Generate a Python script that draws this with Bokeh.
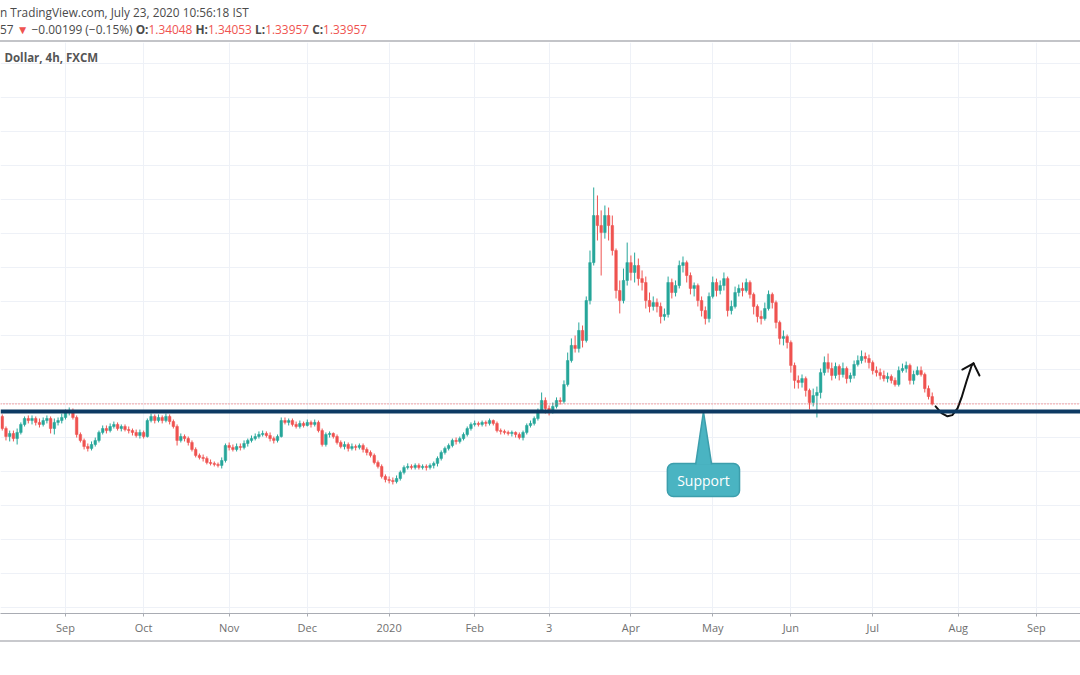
from bokeh.plotting import figure
from bokeh.models import Range1d, LinearAxis, FixedTicker, Grid, Span, Label, Div, ColumnDataSource
from bokeh.layouts import column
from bokeh.core.properties import value
from bokeh.embed import file_html
from bokeh.resources import INLINE

# ---- USD/CAD daily candles (bar index = trading day from 8 Aug 2019) ----
open_ = [
 1.3322,1.3251,1.3204,1.3222,1.3192,1.3228,1.3275,1.3310,1.3298,1.3310,
 1.3287,1.3275,1.3298,1.3310,1.3251,1.3287,1.3298,1.3316,1.3345,1.3357,
 1.3316,1.3216,1.3181,1.3145,1.3134,1.3157,1.3181,1.3228,1.3251,1.3239,
 1.3263,1.3275,1.3251,1.3263,1.3245,1.3239,1.3228,1.3210,1.3228,1.3204,
 1.3298,1.3322,1.3298,1.3316,1.3298,1.3322,1.3292,1.3263,1.3181,1.3204,
 1.3192,1.3169,1.3128,1.3093,1.3081,1.3075,1.3051,1.3046,1.3040,1.3034,
 1.3063,1.3151,1.3140,1.3128,1.3145,1.3140,1.3163,1.3181,1.3192,1.3204,
 1.3216,1.3222,1.3210,1.3192,1.3181,1.3204,1.3298,1.3287,1.3298,1.3275,
 1.3263,1.3281,1.3269,1.3287,1.3275,1.3287,1.3239,1.3157,1.3216,1.3222,
 1.3204,1.3169,1.3145,1.3157,1.3134,1.3145,1.3140,1.3151,1.3128,1.3110,
 1.3093,1.3051,1.3028,1.2969,1.2951,1.2945,1.2939,1.2957,1.2993,1.3022,
 1.3028,1.3022,1.3034,1.3022,1.3028,1.3022,1.3034,1.3046,1.3075,1.3110,
 1.3134,1.3151,1.3181,1.3175,1.3192,1.3216,1.3251,1.3275,1.3281,1.3275,
 1.3287,1.3281,1.3298,1.3281,1.3239,1.3234,1.3228,1.3222,1.3228,1.3216,
 1.3198,1.3228,1.3269,1.3281,1.3310,1.3357,1.3416,1.3369,1.3357,1.3381,
 1.3416,1.3410,1.3510,1.3651,1.3740,1.3722,1.3828,1.3769,1.4004,1.4227,
 1.4504,1.4445,1.4404,1.4504,1.4445,1.4298,1.4063,1.4004,1.4122,1.4227,
 1.4169,1.4210,1.4133,1.4110,1.4004,1.3969,1.3992,1.3969,1.3910,1.3922,
 1.4110,1.4051,1.4092,1.4210,1.4227,1.4151,1.4075,1.4092,1.4004,1.3945,
 1.3898,1.4028,1.4110,1.4063,1.4092,1.4133,1.3945,1.3969,1.4051,1.4075,
 1.4063,1.4110,1.4040,1.3969,1.3910,1.3898,1.3957,1.4040,1.3992,1.3875,
 1.3781,1.3792,1.3757,1.3622,1.3534,1.3522,1.3545,1.3475,1.3404,1.3445,
 1.3463,1.3580,1.3639,1.3604,1.3563,1.3616,1.3569,1.3604,1.3545,1.3563,
 1.3628,1.3651,1.3675,1.3663,1.3639,1.3592,1.3580,1.3563,1.3545,1.3557,
 1.3534,1.3510,1.3592,1.3604,1.3622,1.3534,1.3569,1.3592,1.3569,1.3486,
 1.3439]
high = [
 1.3334,1.3263,1.3239,1.3239,1.3251,1.3287,1.3322,1.3328,1.3328,1.3322,
 1.3310,1.3316,1.3328,1.3322,1.3310,1.3316,1.3339,1.3363,1.3375,1.3369,
 1.3328,1.3228,1.3192,1.3163,1.3175,1.3198,1.3239,1.3269,1.3269,1.3281,
 1.3292,1.3287,1.3275,1.3275,1.3263,1.3251,1.3245,1.3245,1.3239,1.3310,
 1.3339,1.3334,1.3334,1.3328,1.3339,1.3334,1.3304,1.3275,1.3222,1.3216,
 1.3204,1.3181,1.3140,1.3104,1.3098,1.3087,1.3069,1.3057,1.3051,1.3081,
 1.3163,1.3169,1.3157,1.3163,1.3163,1.3181,1.3192,1.3210,1.3222,1.3234,
 1.3239,1.3234,1.3228,1.3204,1.3216,1.3316,1.3316,1.3310,1.3310,1.3292,
 1.3298,1.3292,1.3304,1.3298,1.3304,1.3298,1.3251,1.3228,1.3234,1.3228,
 1.3216,1.3181,1.3175,1.3169,1.3163,1.3157,1.3163,1.3163,1.3140,1.3122,
 1.3104,1.3063,1.3040,1.2981,1.2969,1.2963,1.2975,1.3004,1.3034,1.3046,
 1.3040,1.3046,1.3046,1.3040,1.3040,1.3046,1.3057,1.3087,1.3122,1.3145,
 1.3163,1.3192,1.3198,1.3204,1.3228,1.3263,1.3287,1.3298,1.3292,1.3298,
 1.3298,1.3310,1.3304,1.3292,1.3251,1.3245,1.3239,1.3239,1.3234,1.3228,
 1.3239,1.3281,1.3298,1.3322,1.3369,1.3463,1.3434,1.3387,1.3404,1.3434,
 1.3434,1.3534,1.3698,1.3781,1.3798,1.3875,1.3857,1.4028,1.4298,1.4669,
 1.4622,1.4534,1.4563,1.4551,1.4504,1.4310,1.4122,1.4192,1.4345,1.4269,
 1.4286,1.4251,1.4181,1.4145,1.4051,1.4028,1.4016,1.3992,1.3957,1.4145,
 1.4133,1.4122,1.4239,1.4263,1.4239,1.4169,1.4110,1.4104,1.4028,1.3969,
 1.4051,1.4145,1.4133,1.4122,1.4169,1.4145,1.4004,1.4086,1.4098,1.4110,
 1.4133,1.4122,1.4051,1.3981,1.3945,1.3992,1.4063,1.4051,1.4004,1.3886,
 1.3828,1.3804,1.3769,1.3639,1.3563,1.3569,1.3557,1.3486,1.3486,1.3498,
 1.3604,1.3675,1.3692,1.3639,1.3639,1.3628,1.3639,1.3616,1.3580,1.3651,
 1.3681,1.3710,1.3698,1.3686,1.3651,1.3616,1.3604,1.3592,1.3580,1.3569,
 1.3551,1.3616,1.3633,1.3645,1.3633,1.3592,1.3616,1.3616,1.3580,1.3504,
 1.3463]
low = [
 1.3239,1.3181,1.3175,1.3175,1.3157,1.3216,1.3263,1.3281,1.3275,1.3269,
 1.3257,1.3263,1.3281,1.3222,1.3216,1.3269,1.3281,1.3304,1.3328,1.3304,
 1.3198,1.3169,1.3128,1.3116,1.3122,1.3145,1.3169,1.3216,1.3222,1.3228,
 1.3251,1.3239,1.3234,1.3234,1.3222,1.3210,1.3198,1.3192,1.3192,1.3198,
 1.3287,1.3281,1.3287,1.3281,1.3287,1.3275,1.3251,1.3151,1.3169,1.3175,
 1.3151,1.3116,1.3081,1.3069,1.3057,1.3040,1.3034,1.3028,1.3022,1.3016,
 1.3051,1.3122,1.3116,1.3116,1.3122,1.3128,1.3145,1.3169,1.3181,1.3192,
 1.3204,1.3198,1.3175,1.3163,1.3169,1.3198,1.3275,1.3269,1.3263,1.3251,
 1.3251,1.3257,1.3263,1.3257,1.3263,1.3228,1.3145,1.3145,1.3198,1.3192,
 1.3157,1.3134,1.3128,1.3116,1.3122,1.3122,1.3128,1.3110,1.3093,1.3081,
 1.3040,1.3016,1.2957,1.2934,1.2928,1.2922,1.2928,1.2945,1.2981,1.3010,
 1.3010,1.3010,1.3010,1.3010,1.3004,1.3010,1.3016,1.3028,1.3063,1.3098,
 1.3122,1.3140,1.3157,1.3163,1.3181,1.3204,1.3239,1.3263,1.3263,1.3263,
 1.3263,1.3269,1.3269,1.3228,1.3216,1.3216,1.3210,1.3204,1.3198,1.3187,
 1.3181,1.3216,1.3257,1.3269,1.3298,1.3345,1.3339,1.3328,1.3339,1.3369,
 1.3392,1.3398,1.3498,1.3639,1.3698,1.3698,1.3728,1.3757,1.3981,1.4210,
 1.4357,1.4151,1.4368,1.4357,1.4269,1.4016,1.3928,1.3987,1.4092,1.4122,
 1.4110,1.4092,1.4063,1.3957,1.3934,1.3945,1.3934,1.3869,1.3886,1.3904,
 1.4016,1.4028,1.4075,1.4169,1.4110,1.4040,1.4028,1.3969,1.3910,1.3863,
 1.3875,1.4016,1.4028,1.4040,1.4063,1.3910,1.3922,1.3957,1.4028,1.4028,
 1.4051,1.4016,1.3922,1.3875,1.3863,1.3886,1.3945,1.3957,1.3840,1.3745,
 1.3740,1.3722,1.3580,1.3486,1.3486,1.3492,1.3439,1.3363,1.3381,1.3316,
 1.3428,1.3563,1.3580,1.3534,1.3545,1.3534,1.3551,1.3516,1.3522,1.3545,
 1.3616,1.3633,1.3639,1.3604,1.3569,1.3557,1.3539,1.3528,1.3522,1.3516,
 1.3498,1.3498,1.3580,1.3580,1.3510,1.3510,1.3563,1.3557,1.3463,1.3422,
 1.3387]
close = [
 1.3251,1.3204,1.3222,1.3192,1.3228,1.3275,1.3310,1.3298,1.3310,1.3287,
 1.3275,1.3298,1.3310,1.3251,1.3287,1.3298,1.3316,1.3345,1.3357,1.3316,
 1.3216,1.3181,1.3145,1.3134,1.3157,1.3181,1.3228,1.3251,1.3239,1.3263,
 1.3275,1.3251,1.3263,1.3245,1.3239,1.3228,1.3210,1.3228,1.3204,1.3298,
 1.3322,1.3298,1.3316,1.3298,1.3322,1.3292,1.3263,1.3181,1.3204,1.3192,
 1.3169,1.3128,1.3093,1.3081,1.3075,1.3051,1.3046,1.3040,1.3034,1.3063,
 1.3151,1.3140,1.3128,1.3145,1.3140,1.3163,1.3181,1.3192,1.3204,1.3216,
 1.3222,1.3210,1.3192,1.3181,1.3204,1.3298,1.3287,1.3298,1.3275,1.3263,
 1.3281,1.3269,1.3287,1.3275,1.3287,1.3239,1.3157,1.3216,1.3222,1.3204,
 1.3169,1.3145,1.3157,1.3134,1.3145,1.3140,1.3151,1.3128,1.3110,1.3093,
 1.3051,1.3028,1.2969,1.2951,1.2945,1.2939,1.2957,1.2993,1.3022,1.3028,
 1.3022,1.3034,1.3022,1.3028,1.3022,1.3034,1.3046,1.3075,1.3110,1.3134,
 1.3151,1.3181,1.3175,1.3192,1.3216,1.3251,1.3275,1.3281,1.3275,1.3287,
 1.3281,1.3298,1.3281,1.3239,1.3234,1.3228,1.3222,1.3228,1.3216,1.3198,
 1.3228,1.3269,1.3281,1.3310,1.3357,1.3416,1.3369,1.3357,1.3381,1.3416,
 1.3410,1.3510,1.3651,1.3740,1.3722,1.3828,1.3769,1.4004,1.4227,1.4504,
 1.4445,1.4404,1.4504,1.4445,1.4298,1.4063,1.4004,1.4122,1.4227,1.4169,
 1.4210,1.4133,1.4110,1.4004,1.3969,1.3992,1.3969,1.3910,1.3922,1.4110,
 1.4051,1.4092,1.4210,1.4227,1.4151,1.4075,1.4092,1.4004,1.3945,1.3898,
 1.4028,1.4110,1.4063,1.4092,1.4133,1.3945,1.3969,1.4051,1.4075,1.4063,
 1.4110,1.4040,1.3969,1.3910,1.3898,1.3957,1.4040,1.3992,1.3875,1.3781,
 1.3792,1.3757,1.3622,1.3534,1.3522,1.3545,1.3475,1.3404,1.3445,1.3463,
 1.3580,1.3639,1.3604,1.3563,1.3616,1.3569,1.3604,1.3545,1.3563,1.3628,
 1.3651,1.3675,1.3663,1.3639,1.3592,1.3580,1.3563,1.3545,1.3557,1.3534,
 1.3510,1.3592,1.3604,1.3622,1.3534,1.3569,1.3592,1.3569,1.3486,1.3439,
 1.33957]

month_ticks = [17, 38, 61, 82, 104, 127, 147, 169, 191, 212, 234, 257, 278]
month_labels = ["Sep", "Oct", "Nov", "Dec", "2020", "Feb", "3", "Apr", "May", "Jun", "Jul", "Aug", "Sep"]
price_grid = [1.22, 1.24, 1.26, 1.28, 1.30, 1.32, 1.34, 1.36, 1.38, 1.40,
              1.42, 1.44, 1.46, 1.48, 1.50, 1.52, 1.54]
support_level = 1.3351
last_close = 1.33957

# annotation shapes (hand-drawn on the original): callout and projected path arrow
callout_box = dict(left=178.8, right=198.2, top=1.3045, bottom=1.2851)
callout_tip_x = [186.4, 190.7, 188.5]
callout_tip_y = [1.3040, 1.3040, 1.3351]
curve_x = [250.9, 252.5, 254.1, 255.4, 256.8, 257.9, 259.2, 260.6, 261.1]
curve_y = [1.3381, 1.3342, 1.3323, 1.3330, 1.3369, 1.3434, 1.3528, 1.3622, 1.3634]
head_x = [[258.1, 261.1], [262.7, 261.1]]
head_y = [[1.3598, 1.3634], [1.3563, 1.3634]]

UP, DOWN = "#26a69a", "#ef5350"
FONT = "Open Sans"

idx = list(range(len(close)))
colors = [UP if c >= o else DOWN for o, c in zip(open_, close)]
src = ColumnDataSource(dict(
    x=idx, high=high, low=low,
    top=[max(o, c) for o, c in zip(open_, close)],
    bottom=[min(o, c) for o, c in zip(open_, close)],
    color=colors))

W = 1080
FH = 571
p = figure(frame_width=W, frame_height=FH,
           x_range=Range1d(-0.473, 289.86), y_range=Range1d(1.216294, 1.552176),
           x_axis_type=None, y_axis_type=None,
           output_backend="svg", toolbar_location=None,
           min_border_left=0, min_border_right=0, min_border_top=0, min_border_bottom=27,
           outline_line_color=None, background_fill_color="white", border_fill_color="white")

p.add_layout(Grid(dimension=1, ticker=FixedTicker(ticks=price_grid), grid_line_color="#eef1f7"))
p.add_layout(Grid(dimension=0, ticker=FixedTicker(ticks=month_ticks), grid_line_color="#eef1f7"))

xa = LinearAxis(ticker=FixedTicker(ticks=month_ticks),
                major_label_overrides={t: lab for t, lab in zip(month_ticks, month_labels)})
xa.axis_line_color = "#a9acb3"
xa.major_tick_line_color = "#a9acb3"
xa.major_tick_out = 3
xa.major_tick_in = 0
xa.minor_tick_out = 0
xa.minor_tick_in = 0
xa.major_label_standoff = 3
xa.major_label_text_color = "#6f6f6f"
xa.major_label_text_font = FONT
xa.major_label_text_font_size = "11px"
p.add_layout(xa, "below")

# candles
p.segment(x0="x", x1="x", y0="low", y1="high", color="color", line_width=1, source=src)
p.vbar(x="x", width=0.7, top="top", bottom="bottom", fill_color="color", line_color="color",
       line_width=0.5, source=src)

# lines
p.add_layout(Span(location=last_close, dimension="width", line_color=DOWN, line_width=1, line_dash="1 2"))
p.add_layout(Span(location=support_level, dimension="width", line_color="#0d3a63", line_width=4))

# Support callout
p.quad(left=[callout_box["left"]], right=[callout_box["right"]], top=[callout_box["top"]],
       bottom=[callout_box["bottom"]], fill_color="#4ab4c2", line_color="#3c9eac", line_width=1.5,
       border_radius=6)
p.patch(callout_tip_x, callout_tip_y, fill_color="#4ab4c2", line_color=None)
p.multi_line([[callout_tip_x[0], callout_tip_x[2]], [callout_tip_x[1], callout_tip_x[2]]],
             [[callout_tip_y[0], callout_tip_y[2]], [callout_tip_y[1], callout_tip_y[2]]],
             line_color="#3c9eac", line_width=1.5)
p.text(x=[188.5], y=[(callout_box["top"] + callout_box["bottom"]) / 2], text=["Support"],
       text_align="center", text_baseline="middle", text_color="white",
       text_font=value(FONT), text_font_size="14px")

# projected path arrow
p.line(curve_x, curve_y, line_color="#111111", line_width=2, line_join="round", line_cap="round")
p.multi_line(head_x, head_y, line_color="#111111", line_width=2, line_cap="round")

p.add_layout(Label(x=0.6, y=1.5433, text="Dollar, 4h, FXCM", text_align="left", text_baseline="middle",
                   text_font=FONT, text_font_size="11.5px", text_font_style="bold", text_color="#555555"))

header_html = (
    '<div style="font-family:\'Open Sans\';color:#4a4a4a;line-height:17px;'
    'white-space:nowrap;margin-top:4px">'
    '<span style="font-size:11.8px">n TradingView.com, July 23, 2020 10:56:18 IST</span><br>'
    '<span style="font-size:11.9px">57 <span style="color:#ef5350">&#9660;</span> &minus;0.00199 (&minus;0.15%) '
    '<b>O:</b><span style="color:#ef5350">1.34048</span> '
    '<b>H:</b><span style="color:#ef5350">1.34053</span> '
    '<b>L:</b><span style="color:#ef5350">1.33957</span> '
    '<b>C:</b><span style="color:#ef5350">1.33957</span></span></div>'
)
header = Div(text=header_html, width=W, height=40, margin=(0, 0, 0, 0))
sep = Div(text="", width=W, height=2, margin=(0, 0, 0, 0), styles={"background-color": "#c3c4c8"})
foot = Div(text="", width=W, height=2, margin=(0, 0, 0, 0), styles={"background-color": "#c8c9cd"})

layout = column(header, sep, p, foot, spacing=0)
open("out.html", "w").write(file_html(layout, INLINE))
